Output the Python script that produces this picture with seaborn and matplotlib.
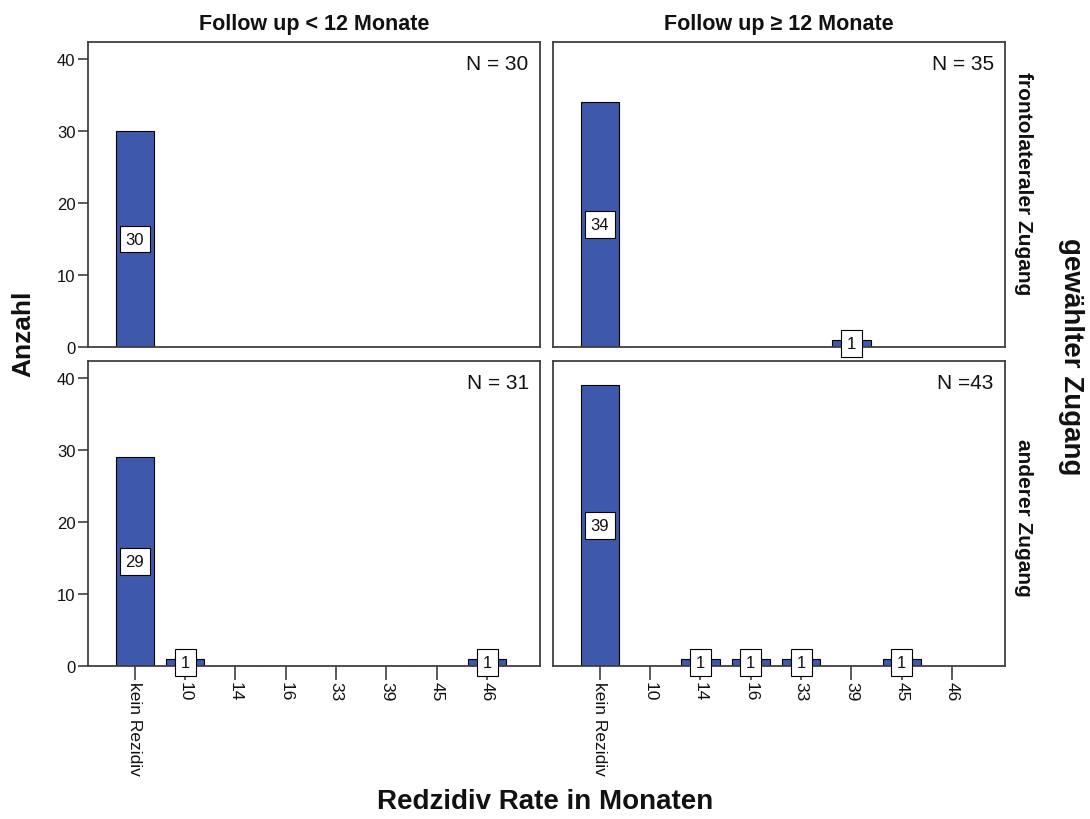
import matplotlib
matplotlib.use("Agg")
import matplotlib.pyplot as plt
import seaborn as sns
import pandas as pd

sns.set_theme(style="white")
plt.rcParams['font.family'] = ['Liberation Sans', 'DejaVu Sans']

categories = ["kein Rezidiv", "10", "14", "16", "33", "39", "45", "46"]
col_titles = ["Follow up < 12 Monate", "Follow up \u2265 12 Monate"]
row_titles = ["frontolateraler Zugang", "anderer Zugang"]

vals_front_lt12 = [30, 0, 0, 0, 0, 0, 0, 0]
vals_front_ge12 = [34, 0, 0, 0, 0, 1, 0, 0]
vals_other_lt12 = [29, 1, 0, 0, 0, 0, 0, 1]
vals_other_ge12 = [39, 0, 1, 1, 1, 0, 1, 0]
n_labels = [["N = 30", "N = 35"], ["N = 31", "N =43"]]

panels = [[vals_front_lt12, vals_front_ge12], [vals_other_lt12, vals_other_ge12]]
yticks = [0, 10, 20, 30, 40]

bar_color = "#3E58AC"
frame_color = "#404040"
text_color = "#111111"

fig = plt.figure(figsize=(10.9, 8.2), dpi=100)
W, H = 1090, 820
lefts = [88, 553]
tops = [43, 362]
aw, ah = 452, 305
row_label_y = [0.54, 0.49]

for r in range(2):
    for c in range(2):
        ax = fig.add_axes([lefts[c] / W, 1 - (tops[r] + ah) / H, aw / W, ah / H])
        vals = panels[r][c]
        df = pd.DataFrame({"cat": categories, "count": vals})
        sns.barplot(data=df, x="cat", y="count", order=categories, color=bar_color,
                    saturation=1, width=0.76, edgecolor="black", linewidth=0.8, ax=ax)
        ax.set_xlim(-0.93, 8.05)
        ax.set_ylim(0, 42.4)
        ax.set_xlabel("")
        ax.set_ylabel("")
        for s in ax.spines.values():
            s.set_color(frame_color)
            s.set_linewidth(1.3)
        # value labels
        for i, v in enumerate(vals):
            if v > 0:
                ax.text(i, v / 2, str(v), ha="center", va="center", fontsize=12, color=text_color,
                        bbox=dict(boxstyle="square,pad=0.35", fc="white", ec="black", lw=0.8), zorder=5)
        ax.text(0.975, 0.93, n_labels[r][c], transform=ax.transAxes, ha="right", va="center",
                fontsize=15, color=text_color)
        # y axis
        if c == 0:
            ax.set_yticks(yticks)
            ax.set_yticklabels([str(t) for t in yticks], fontsize=12, color=text_color)
            ax.tick_params(axis="y", direction="out", length=7, width=1.2, color=frame_color, pad=2, left=True)
        else:
            ax.set_yticks([])
        # x axis
        if r == 1:
            ax.set_xticks(range(len(categories)))
            ax.set_xticklabels(categories, rotation=270, fontsize=12.5, color=text_color, va="top", ha="center")
            ax.tick_params(axis="x", direction="out", length=10, width=1.2, color=frame_color, pad=1, bottom=True)
        else:
            ax.set_xticks([])
        if r == 0:
            ax.set_title(col_titles[c], fontsize=15.5, fontweight="bold", pad=9, color=text_color)
        if c == 1:
            ax.text(1.04, row_label_y[r], row_titles[r], transform=ax.transAxes, rotation=270,
                    ha="center", va="center", fontsize=15, fontweight="bold", color=text_color)

fig.text(0.021, 0.593, "Anzahl", rotation=90, ha="center", va="center", fontsize=19, fontweight="bold", color=text_color)
fig.text(0.983, 0.565, "gew\u00e4hlter Zugang", rotation=270, ha="center", va="center", fontsize=20, fontweight="bold", color=text_color)
fig.text(0.5, 0.022, "Redzidiv Rate in Monaten", ha="center", va="center", fontsize=20, fontweight="bold", color=text_color)

fig.savefig("out.png", dpi=100, facecolor="white")
